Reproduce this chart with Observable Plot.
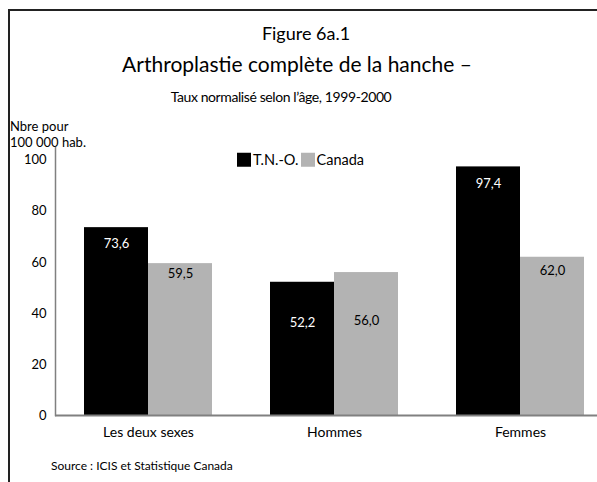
<!DOCTYPE html>
<html>
<head>
<meta charset="utf-8">
<script src="https://cdn.jsdelivr.net/npm/d3@7"></script>
<script src="https://cdn.jsdelivr.net/npm/@observablehq/plot@0.6"></script>
<style>
  html, body { margin: 0; padding: 0; background: #fff; overflow: hidden; }
  #wrap { position: relative; width: 597px; height: 482px; overflow: hidden; font-family: Lato, "Open Sans", sans-serif; color: #000; }
  #frame { position: absolute; left: 8px; top: 9px; width: 700px; height: 600px; border-top: 2px solid #222; border-left: 2px solid #222; }
  .t { position: absolute; white-space: nowrap; line-height: 1; }
  .c { transform: translate(-50%, -50%); }
  .l { transform: translate(0, -50%); }
  #chart { position: absolute; left: 0; top: 130px; width: 620px; height: 320px; }
  #chart svg { max-width: none !important; }
  .sw { display: inline-block; width: 14px; height: 14px; vertical-align: -2px; margin-right: 2px; }
</style>
</head>
<body>
<div id="wrap">
  <div id="frame"></div>
  <div class="t c" id="fig" style="left:306px; top:33px; font-size:18px;"></div>
  <div class="t c" id="title" style="left:297px; top:63px; font-size:21px;"></div>
  <div class="t c" id="subtitle" style="left:281px; top:97px; font-size:14px; letter-spacing:-0.4px;"></div>
  <div class="t l" id="ylab1" style="left:10px; top:126px; font-size:13px;"></div>
  <div class="t l" id="ylab2" style="left:10px; top:142px; font-size:13px;"></div>
  <div class="t l" id="legend" style="left:237px; top:160px; font-size:14.5px;"></div>
  <div id="chart"></div>
  <div class="t l" id="source" style="left:51px; top:466px; font-size:12px;"></div>
</div>
<script>
// ---- Data ----
const groups = ["Les deux sexes", "Hommes", "Femmes"];
const series = ["T.N.-O.", "Canada"];
const tnoValues = [73.6, 52.2, 97.4];
const canadaValues = [59.5, 56.0, 62.0];
const yTicks = [0, 20, 40, 60, 80, 100];

// ---- Text ----
const figureLabel = "Figure 6a.1";
const titleText = "Arthroplastie complète de la hanche –";
const subtitleText = "Taux normalisé selon l’âge, 1999-2000";
const yLabelLines = ["Nbre pour", "100 000 hab."];
const sourceText = "Source : ICIS et Statistique Canada";

// ---- Styles ----
const seriesColors = ["#000000", "#b3b3b3"];
const labelColors = ["#ffffff", "#000000"];
const labelOffsetsTno = [16, 41, 17];
const labelOffsetsCanada = [10, 48, 14];

document.getElementById("fig").textContent = figureLabel;
document.getElementById("title").textContent = titleText;
document.getElementById("subtitle").textContent = subtitleText;
document.getElementById("ylab1").textContent = yLabelLines[0];
document.getElementById("ylab2").textContent = yLabelLines[1];
document.getElementById("source").textContent = sourceText;
const legend = document.getElementById("legend");
series.forEach((s, i) => {
  const sw = document.createElement("span");
  sw.className = "sw";
  sw.style.background = seriesColors[i];
  legend.appendChild(sw);
  const tx = document.createElement("span");
  tx.textContent = s;
  tx.style.marginRight = "2px";
  legend.appendChild(tx);
});

const rows = [];
groups.forEach((g, i) => {
  rows.push({group: g, series: series[0], value: tnoValues[i], dy: labelOffsetsTno[i]});
  rows.push({group: g, series: series[1], value: canadaValues[i], dy: labelOffsetsCanada[i]});
});
const fmt = v => v.toFixed(1).replace(".", ",");

const marks = [
  Plot.barY(rows, {fx: "group", x: "series", y: "value", fill: "series"}),
  Plot.ruleY([0], {stroke: "#808080", strokeWidth: 2}),
  Plot.frame({anchor: "left", facetAnchor: "left", stroke: "#808080", strokeWidth: 1.5}),
  Plot.axisY({ticks: yTicks, tickSize: 0, tickPadding: 9, fontSize: 13, label: null, tickFormat: d => d, facetAnchor: "left"}),
  Plot.axisFx({anchor: "bottom", tickSize: 0, tickPadding: 12, fontSize: 14, label: null})
];
series.forEach((s, si) => {
  rows.filter(r => r.series === s).forEach(r => {
    marks.push(Plot.text([r], {fx: "group", x: "series", y: "value", text: d => fmt(d.value),
      dy: r.dy, fill: labelColors[si], fontSize: 13}));
  });
});

const chart = Plot.plot({
  width: 620,
  height: 320,
  marginTop: 17,
  marginBottom: 35,
  marginLeft: 55,
  marginRight: 7,
  style: {fontFamily: "Lato, 'Open Sans', sans-serif", color: "#000", background: "transparent", overflow: "visible", maxWidth: "none"},
  fx: {domain: groups, padding: 0},
  x: {domain: series, paddingInner: 0, paddingOuter: 0.453, axis: null},
  y: {domain: [0, 105], axis: null},
  color: {domain: series, range: seriesColors},
  marks
});
document.getElementById("chart").appendChild(chart);
</script>
</body>
</html>
